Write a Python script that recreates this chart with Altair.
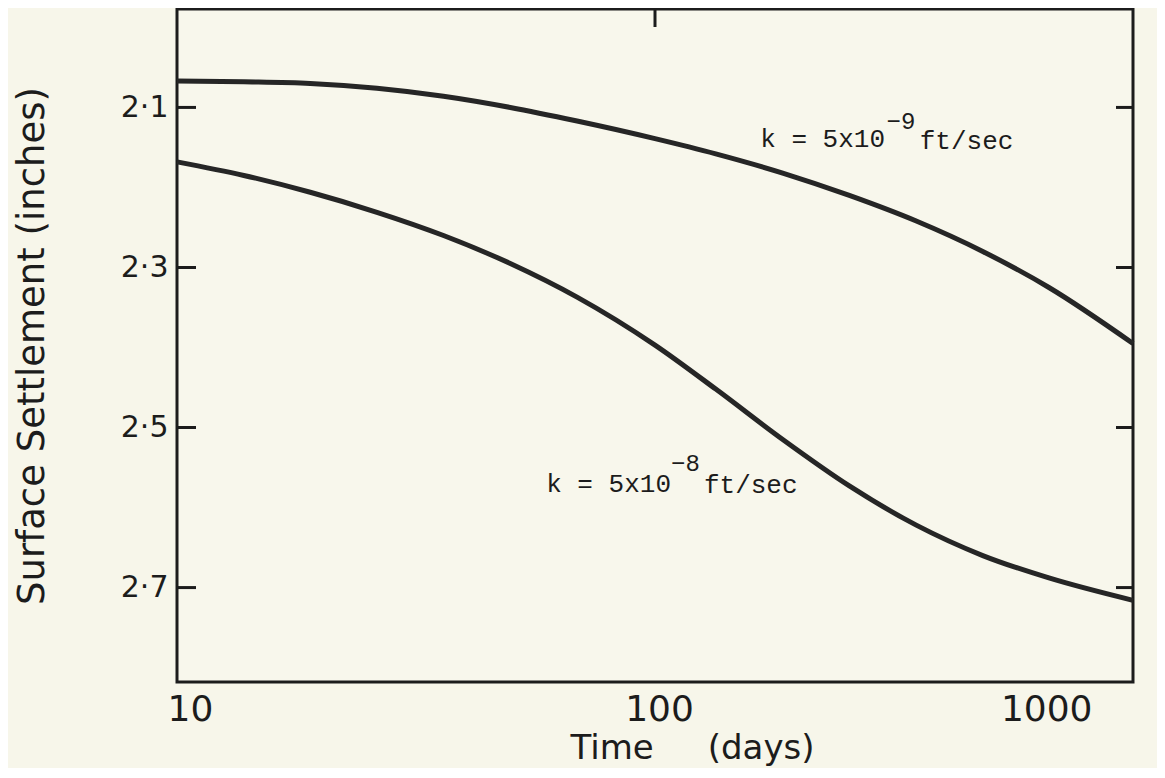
import altair as alt
import pandas as pd

# ---- data ----
time_days = [10, 13.8, 19, 26.2, 36.1, 49.8, 68.7, 100, 134, 185, 255, 352, 485, 667, 1000]
settle_k9 = [2.067, 2.068, 2.070, 2.076, 2.086, 2.100, 2.117, 2.139, 2.158, 2.182, 2.210, 2.242, 2.280, 2.325, 2.395]
settle_k8 = [2.168, 2.185, 2.206, 2.231, 2.260, 2.295, 2.337, 2.397, 2.452, 2.515, 2.573, 2.622, 2.660, 2.688, 2.716]
series_names = ["k = 5x10^-9 ft/sec", "k = 5x10^-8 ft/sec"]

y_ticks = [2.1, 2.3, 2.5, 2.7]
x_ticks = [10, 100, 1000]
top_ticks = [100]

# annotation pieces: main text, unit
ann_text = ["k = 5x10", "ft/sec", "k = 5x10", "ft/sec"]
ann_t = [166, 358, 59.2, 126.6]
ann_v = [2.140, 2.142, 2.570, 2.572]
# superscript exponents
sup_text = ["\u22129", "\u22128"]
sup_t = [305, 108]
sup_v = [2.118, 2.546]

W, H = 956, 673
INK = "#1c1c1c"
FONT = "DejaVu Sans"
MONO = "Liberation Mono"

rows = []
for t, a, b in zip(time_days, settle_k9, settle_k8):
    rows.append({"t": t, "v": a, "s": series_names[0]})
    rows.append({"t": t, "v": b, "s": series_names[1]})
df = pd.DataFrame(rows)

xscale = alt.Scale(type="log", domain=[10, 1000], nice=False)
yscale = alt.Scale(domain=[1.977, 2.818], reverse=True, nice=False, zero=False)

xaxis = alt.Axis(values=x_ticks, ticks=False, domain=False, grid=False,
                 labelFontSize=36, labelFont=FONT, labelColor=INK, labelPadding=10,
                 labelExpr="format(datum.value, 'd')",
                 labelOffset=alt.expr("datum.value == 1000 ? -41 : (datum.value == 10 ? -10 : 4)"),
                 title="Time\u00a0\u00a0\u00a0\u00a0\u00a0(days)", titleFont=FONT, titleFontSize=34,
                 titleFontWeight="normal", titleColor=INK,
                 titleX=515, titleY=66, titleBaseline="middle", titleAlign="center", titleAnchor="start")
yaxis = alt.Axis(values=y_ticks, ticks=False, domain=False, grid=False,
                 labelFontSize=30, labelFont=FONT, labelColor=INK, labelPadding=9,
                 labelExpr="replace(format(datum.value, '.1f'), '.', '\u00b7')",
                 title="Surface Settlement (inches)", titleFont=FONT, titleFontSize=37,
                 titleFontWeight="normal", titleColor=INK,
                 titleX=-145, titleY=H / 2, titleAngle=270, titleBaseline="middle",
                 titleAlign="center", titleAnchor="start")

lines = alt.Chart(df).mark_line(strokeWidth=5, color="#262626", interpolate="monotone").encode(
    x=alt.X("t:Q", scale=xscale, axis=xaxis),
    y=alt.Y("v:Q", scale=yscale, axis=yaxis),
    detail="s:N",
)

yt = pd.DataFrame({"v": y_ticks})
left_ticks = alt.Chart(yt).mark_rule(strokeWidth=3, color=INK).encode(
    y=alt.Y("v:Q", scale=yscale), x=alt.value(0), x2=alt.value(19))
right_ticks = alt.Chart(yt).mark_rule(strokeWidth=3, color=INK).encode(
    y=alt.Y("v:Q", scale=yscale), x=alt.value(W - 17), x2=alt.value(W))
tt = pd.DataFrame({"t": top_ticks})
top_tick = alt.Chart(tt).mark_rule(strokeWidth=3, color=INK).encode(
    x=alt.X("t:Q", scale=xscale), y=alt.value(0), y2=alt.value(18))

ann = pd.DataFrame({"txt": ann_text, "t": ann_t, "v": ann_v})
ann_layer = alt.Chart(ann).mark_text(font=MONO, fontSize=26, align="left", baseline="middle",
                                     color=INK).encode(
    x=alt.X("t:Q", scale=xscale), y=alt.Y("v:Q", scale=yscale), text="txt:N")
sup = pd.DataFrame({"txt": sup_text, "t": sup_t, "v": sup_v})
sup_layer = alt.Chart(sup).mark_text(font=MONO, fontSize=24, align="left", baseline="middle",
                                     color=INK).encode(
    x=alt.X("t:Q", scale=xscale), y=alt.Y("v:Q", scale=yscale), text="txt:N")

chart = alt.layer(lines, left_ticks, right_ticks, top_tick, ann_layer, sup_layer).properties(
    width=W, height=H,
    autosize=alt.AutoSizeParams(type="none"),
    padding={"left": 169, "top": 1, "right": 24, "bottom": 86},
    background="#f7f6ea",
).configure_view(stroke=INK, strokeWidth=3, fill="#f8f7ec")

chart.save("out.html", embed_options={"renderer": "svg", "actions": False})
